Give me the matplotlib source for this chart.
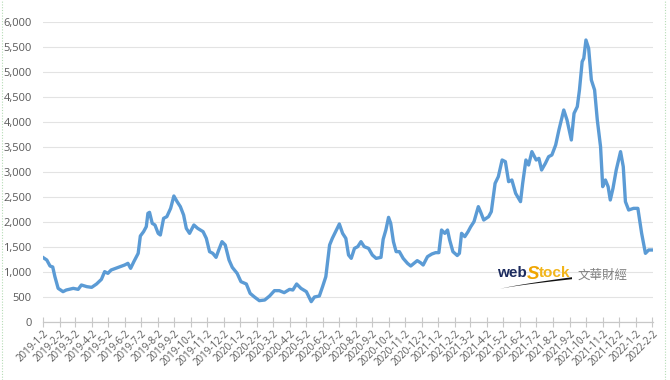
import matplotlib
matplotlib.use("Agg")
import matplotlib.pyplot as plt
from matplotlib.ticker import FuncFormatter, MultipleLocator
from matplotlib.patches import Polygon
from matplotlib.lines import Line2D
import pandas as pd
import numpy as np

dates = [
    "2019-01-02", "2019-01-09", "2019-01-15", "2019-01-20", "2019-01-24", "2019-01-30",
    "2019-02-08", "2019-02-14", "2019-02-27", "2019-03-08", "2019-03-14", "2019-03-24",
    "2019-04-02", "2019-04-11", "2019-04-20", "2019-04-26", "2019-05-02", "2019-05-08",
    "2019-05-21", "2019-06-02", "2019-06-08", "2019-06-13", "2019-06-19", "2019-06-27",
    "2019-07-01", "2019-07-07", "2019-07-12", "2019-07-15", "2019-07-18", "2019-07-23",
    "2019-07-28", "2019-08-03", "2019-08-07", "2019-08-13", "2019-08-19", "2019-08-26",
    "2019-09-01", "2019-09-07", "2019-09-13", "2019-09-19", "2019-09-24", "2019-09-30",
    "2019-10-08", "2019-10-15", "2019-10-25", "2019-10-31", "2019-11-06", "2019-11-12",
    "2019-11-18", "2019-11-23", "2019-11-29", "2019-12-05", "2019-12-12", "2019-12-18",
    "2019-12-27", "2020-01-03", "2020-01-13", "2020-01-20", "2020-01-28", "2020-02-06",
    "2020-02-16", "2020-02-25", "2020-03-05", "2020-03-14", "2020-03-23", "2020-04-02",
    "2020-04-08", "2020-04-15", "2020-04-23", "2020-05-03", "2020-05-12", "2020-05-18",
    "2020-05-27", "2020-06-02", "2020-06-08", "2020-06-15", "2020-06-20", "2020-06-26",
    "2020-07-03", "2020-07-09", "2020-07-15", "2020-07-20", "2020-07-25", "2020-07-31",
    "2020-08-06", "2020-08-12", "2020-08-18", "2020-08-26", "2020-09-02", "2020-09-09",
    "2020-09-18", "2020-09-22", "2020-09-27", "2020-10-02", "2020-10-06", "2020-10-11",
    "2020-10-16", "2020-10-22", "2020-10-29", "2020-11-06", "2020-11-12", "2020-11-18",
    "2020-11-24", "2020-11-30", "2020-12-05", "2020-12-13", "2020-12-21", "2020-12-28",
    "2021-01-03", "2021-01-08", "2021-01-14", "2021-01-19", "2021-01-23", "2021-01-29",
    "2021-02-06", "2021-02-10", "2021-02-14", "2021-02-20", "2021-02-26", "2021-03-03",
    "2021-03-09", "2021-03-17", "2021-03-21", "2021-03-27", "2021-04-05", "2021-04-10",
    "2021-04-17", "2021-04-23", "2021-04-30", "2021-05-06", "2021-05-12", "2021-05-18",
    "2021-05-25", "2021-06-03", "2021-06-07", "2021-06-13", "2021-06-18", "2021-06-24",
    "2021-07-02", "2021-07-07", "2021-07-12", "2021-07-19", "2021-07-25", "2021-07-31",
    "2021-08-07", "2021-08-13", "2021-08-22", "2021-08-28", "2021-09-05", "2021-09-10",
    "2021-09-16", "2021-09-20", "2021-09-25", "2021-09-28", "2021-10-02", "2021-10-07",
    "2021-10-12", "2021-10-18", "2021-10-23", "2021-10-29", "2021-11-02", "2021-11-07",
    "2021-11-12", "2021-11-16", "2021-11-21", "2021-11-27", "2021-12-05", "2021-12-10",
    "2021-12-14", "2021-12-20", "2021-12-29", "2022-01-06", "2022-01-13", "2022-01-20",
    "2022-01-26", "2022-01-31",
]
values = [
    1290, 1240, 1120, 1100, 907, 673,
    607, 640, 673, 653, 740, 707,
    693, 760, 853, 1007, 973, 1040,
    1093, 1140, 1173, 1073, 1207, 1373,
    1720, 1807, 1907, 2173, 2193, 1973,
    1940, 1773, 1740, 2073, 2107, 2273,
    2520, 2407, 2307, 2140, 1873, 1773,
    1940, 1873, 1807, 1673, 1407, 1373,
    1293, 1440, 1607, 1540, 1240, 1093,
    973, 807, 760, 573, 500, 427,
    440, 520, 627, 627, 587, 653,
    640, 760, 673, 607, 407, 500,
    520, 707, 907, 1540, 1673, 1807,
    1960, 1773, 1673, 1340, 1273, 1473,
    1507, 1607, 1507, 1473, 1340, 1273,
    1293, 1653, 1840, 2093, 1973, 1607,
    1407, 1407, 1273, 1173, 1120, 1173,
    1227, 1187, 1140, 1307, 1360, 1387,
    1387, 1840, 1773, 1840, 1640, 1407,
    1330, 1373, 1773, 1707, 1807, 1907,
    2007, 2307, 2207, 2040, 2107, 2207,
    2773, 2907, 3240, 3207, 2807, 2840,
    2573, 2407, 2773, 3240, 3140, 3407,
    3240, 3273, 3040, 3173, 3307, 3340,
    3540, 3840, 4240, 4040, 3640, 4173,
    4307, 4640, 5207, 5273, 5640, 5473,
    4840, 4640, 4040, 3507, 2707, 2840,
    2707, 2440, 2673, 3040, 3407, 3107,
    2407, 2240, 2273, 2273, 1773, 1373,
    1440, 1440,
]
tick_dates = pd.date_range("2019-01-01", "2022-02-01", freq="MS") + pd.Timedelta(days=1)
tick_labels = [f"{d.year}-{d.month}-{d.day}" for d in tick_dates]

W, H = 670, 380
fig = plt.figure(figsize=(W / 100, H / 100), dpi=100)
ax = fig.add_axes([43 / W, 1 - 322 / H, (653 - 43) / W, 300 / H])

x = pd.to_datetime(dates)
ax.plot(x, values, color="#5b9bd5", lw=2.4, solid_joinstyle="round", zorder=3)

ax.set_ylim(0, 6000)
ax.yaxis.set_major_locator(MultipleLocator(500))
ax.yaxis.set_major_formatter(FuncFormatter(lambda v, p: f"{int(v):,}"))
ax.set_xlim(tick_dates[0], tick_dates[-1] + pd.Timedelta(days=1))
ax.set_xticks(tick_dates)
ax.set_xticklabels(tick_labels, rotation=45, ha="right", rotation_mode="anchor")

ax.grid(axis="y", color="#e3e3e3", lw=0.8)
ax.set_axisbelow(True)
for s in ["top", "right", "left"]:
    ax.spines[s].set_visible(False)
ax.spines["bottom"].set_color("#c8c8c8")
ax.spines["bottom"].set_linewidth(0.9)
ax.tick_params(axis="y", length=0, labelsize=8, labelcolor="#595959", pad=8)
ax.tick_params(axis="x", direction="inout", length=7, color="#c8c8c8",
               labelsize=7, labelcolor="#595959", pad=1)
for lab in ax.get_yticklabels() + ax.get_xticklabels():
    lab.set_fontfamily("Open Sans")

# watermark logo
def fx(px):
    return px / W

def fy(py):
    return 1 - py / H

fig.text(fx(497), fy(277), "web", fontsize=11, fontweight="bold", color="#1c2b5e",
         family="Liberation Sans", va="baseline", ha="left")
fig.text(fx(527), fy(279), "S", fontsize=13.5, fontweight="bold", color="#f0a500",
         family="Liberation Sans", va="baseline", ha="left", style="italic")
fig.text(fx(539), fy(277), "tock", fontsize=11, fontweight="bold", color="#f2b51a",
         family="Liberation Sans", va="baseline", ha="left")
fig.text(fx(578), fy(275), "文華財經", fontsize=9, color="#808080",
         family=["Noto Sans CJK TC", "DejaVu Sans"], va="center", ha="left")
t = np.linspace(0, 1, 30)
xs = 500 + 72 * t
top = 289 - 10 * t ** 0.8 - 1.8 * t
bot = 289 - 10 * t ** 0.8 + 0.2 * t
pts = [(fx(a), fy(b)) for a, b in zip(xs, top)] + [(fx(a), fy(b)) for a, b in zip(xs[::-1], bot[::-1])]
fig.patches.append(Polygon(pts, closed=True, transform=fig.transFigure,
                           facecolor="#111111", edgecolor="none"))

# picture border
for xb in (2, 665):
    fig.lines.append(Line2D([fx(xb), fx(xb)], [0, 1], transform=fig.transFigure,
                            color="#b5dcb5", lw=0.8, ls=(0, (1, 1.5))))

fig.savefig("out.png", dpi=100, facecolor="white")
